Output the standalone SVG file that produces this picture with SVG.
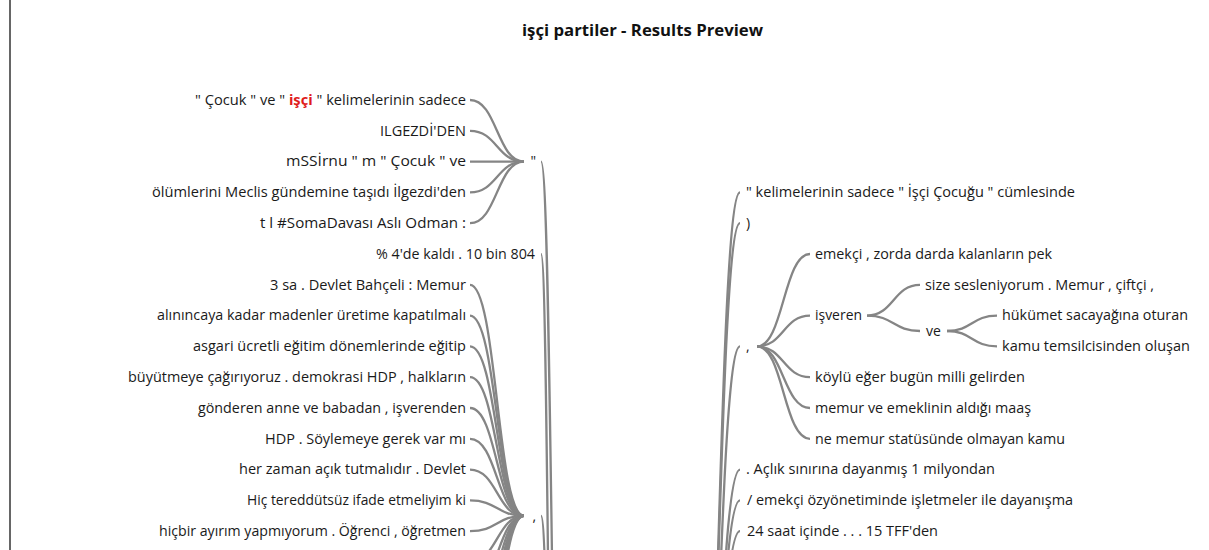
<svg xmlns="http://www.w3.org/2000/svg" width="1209" height="550" viewBox="0 0 1209 550">
<style>
text{font-family:"Open Sans","Liberation Sans",sans-serif;font-size:14px;fill:#1a1a1a}
.l{text-anchor:end}
.title{font-size:15.5px;font-weight:bold;text-anchor:middle;fill:#111}
.hl{fill:#e01b1b;font-weight:bold}
.c path{fill:none;stroke:#858585;stroke-width:2.3}
</style>
<rect width="1209" height="550" fill="#fff"/>
<line x1="10" y1="0" x2="10" y2="550" stroke="#333" stroke-width="1.5"/>
<text class="title" x="642.5" y="36" textLength="241" lengthAdjust="spacingAndGlyphs">işçi partiler - Results Preview</text>
<g class="c" id="connectors">
<path d="M470,100 C497,100 497,161.6 524,161.6"/>
<path d="M470,130.8 C497,130.8 497,161.6 524,161.6"/>
<path d="M470,161.6 C497,161.6 497,161.6 524,161.6"/>
<path d="M470,192.4 C497,192.4 497,161.6 524,161.6"/>
<path d="M470,223.2 C497,223.2 497,161.6 524,161.6"/>
<path d="M470,284.8 C497,284.8 497,515.8 524,515.8"/>
<path d="M470,315.6 C497,315.6 497,515.8 524,515.8"/>
<path d="M470,346.4 C497,346.4 497,515.8 524,515.8"/>
<path d="M470,377.2 C497,377.2 497,515.8 524,515.8"/>
<path d="M470,408 C497,408 497,515.8 524,515.8"/>
<path d="M470,438.8 C497,438.8 497,515.8 524,515.8"/>
<path d="M470,469.6 C497,469.6 497,515.8 524,515.8"/>
<path d="M470,500.4 C497,500.4 497,515.8 524,515.8"/>
<path d="M470,531.2 C497,531.2 497,515.8 524,515.8"/>
<path d="M470,562 C497,562 497,515.8 524,515.8"/>
<path d="M470,592.8 C497,592.8 497,515.8 524,515.8"/>
<path d="M470,623.6 C497,623.6 497,515.8 524,515.8"/>
<path d="M470,654.4 C497,654.4 497,515.8 524,515.8"/>
<path d="M470,685.2 C497,685.2 497,515.8 524,515.8"/>
<path d="M470,716 C497,716 497,515.8 524,515.8"/>
<path d="M470,746.8 C497,746.8 497,515.8 524,515.8"/>
<path d="M541,161.6 C552,161.6 552,950 563,950"/>
<path d="M541,254 C548.5,254 548.5,950 556,950"/>
<path d="M541,515.8 C548.5,515.8 548.5,950 556,950"/>
<path d="M740,192.4 C717.5,192.4 717.5,950 695,950"/>
<path d="M740,223.2 C717.5,223.2 717.5,950 695,950"/>
<path d="M740,346.4 C717.5,346.4 717.5,950 695,950"/>
<path d="M740,469.6 C717.5,469.6 717.5,950 695,950"/>
<path d="M740,500.4 C717.5,500.4 717.5,950 695,950"/>
<path d="M740,531.2 C717.5,531.2 717.5,950 695,950"/>
<path d="M757,346.4 C783.5,346.4 783.5,254 810,254"/>
<path d="M757,346.4 C783.5,346.4 783.5,315.6 810,315.6"/>
<path d="M757,346.4 C783.5,346.4 783.5,377.2 810,377.2"/>
<path d="M757,346.4 C783.5,346.4 783.5,408 810,408"/>
<path d="M757,346.4 C783.5,346.4 783.5,438.8 810,438.8"/>
<path d="M867,315.6 C893.5,315.6 893.5,284.8 920,284.8"/>
<path d="M867,315.6 C893.5,315.6 893.5,331 920,331"/>
<path d="M947,331 C972,331 972,315.6 997,315.6"/>
<path d="M947,331 C972,331 972,346.4 997,346.4"/>
</g>
<g id="n-l0"><text class="l" x="466" y="104.8" textLength="271" lengthAdjust="spacingAndGlyphs">" Çocuk " ve " <tspan class="hl">işçi</tspan> " kelimelerinin sadece</text></g>
<g id="n-l1"><text class="l" x="466" y="135.6" textLength="86" lengthAdjust="spacingAndGlyphs">ILGEZDİ'DEN</text></g>
<g id="n-l2"><text class="l" x="466" y="166.4" textLength="180" lengthAdjust="spacingAndGlyphs">mSSİrnu " m " Çocuk " ve</text></g>
<g id="n-l3"><text class="l" x="466" y="197.2" textLength="314" lengthAdjust="spacingAndGlyphs">ölümlerini Meclis gündemine taşıdı İlgezdi'den</text></g>
<g id="n-l4"><text class="l" x="466" y="228" textLength="206" lengthAdjust="spacingAndGlyphs">t l #SomaDavası Aslı Odman :</text></g>
<g id="n-hq"><text class="l" x="536" y="166.4">"</text></g>
<g id="n-l5"><text class="l" x="535" y="258.8" textLength="159" lengthAdjust="spacingAndGlyphs">% 4'de kaldı . 10 bin 804</text></g>
<g id="n-l6"><text class="l" x="466" y="289.6" textLength="196" lengthAdjust="spacingAndGlyphs">3 sa . Devlet Bahçeli : Memur</text></g>
<g id="n-l7"><text class="l" x="466" y="320.4" textLength="309" lengthAdjust="spacingAndGlyphs">alınıncaya kadar madenler üretime kapatılmalı</text></g>
<g id="n-l8"><text class="l" x="466" y="351.2" textLength="273" lengthAdjust="spacingAndGlyphs">asgari ücretli eğitim dönemlerinde eğitip</text></g>
<g id="n-l9"><text class="l" x="466" y="382" textLength="338" lengthAdjust="spacingAndGlyphs">büyütmeye çağırıyoruz . demokrasi HDP , halkların</text></g>
<g id="n-l10"><text class="l" x="466" y="412.8" textLength="268" lengthAdjust="spacingAndGlyphs">gönderen anne ve babadan , işverenden</text></g>
<g id="n-l11"><text class="l" x="466" y="443.6" textLength="201" lengthAdjust="spacingAndGlyphs">HDP . Söylemeye gerek var mı</text></g>
<g id="n-l12"><text class="l" x="466" y="474.4" textLength="227" lengthAdjust="spacingAndGlyphs">her zaman açık tutmalıdır . Devlet</text></g>
<g id="n-l13"><text class="l" x="466" y="505.2" textLength="219" lengthAdjust="spacingAndGlyphs">Hiç tereddütsüz ifade etmeliyim ki</text></g>
<g id="n-l14"><text class="l" x="466" y="536" textLength="307" lengthAdjust="spacingAndGlyphs">hiçbir ayırım yapmıyorum . Öğrenci , öğretmen</text></g>
<g id="n-hc"><text class="l" x="536" y="520.6">,</text></g>
<g id="n-r0"><text x="746" y="197.2" textLength="329" lengthAdjust="spacingAndGlyphs">" kelimelerinin sadece " İşçi Çocuğu " cümlesinde</text></g>
<g id="n-r1"><text x="746" y="228">)</text></g>
<g id="n-rc"><text x="746" y="351.2">,</text></g>
<g id="n-r2"><text x="815" y="258.8" textLength="237" lengthAdjust="spacingAndGlyphs">emekçi , zorda darda kalanların pek</text></g>
<g id="n-r3"><text x="815" y="320.4" textLength="47" lengthAdjust="spacingAndGlyphs">işveren</text></g>
<g id="n-r4"><text x="925" y="289.6" textLength="229" lengthAdjust="spacingAndGlyphs">size sesleniyorum . Memur , çiftçi ,</text></g>
<g id="n-r5"><text x="926" y="335.8">ve</text></g>
<g id="n-r6"><text x="1002" y="320.4" textLength="186" lengthAdjust="spacingAndGlyphs">hükümet sacayağına oturan</text></g>
<g id="n-r7"><text x="1002" y="351.2" textLength="188" lengthAdjust="spacingAndGlyphs">kamu temsilcisinden oluşan</text></g>
<g id="n-r8"><text x="815" y="382" textLength="210" lengthAdjust="spacingAndGlyphs">köylü eğer bugün milli gelirden</text></g>
<g id="n-r9"><text x="815" y="412.8" textLength="216" lengthAdjust="spacingAndGlyphs">memur ve emeklinin aldığı maaş</text></g>
<g id="n-r10"><text x="815" y="443.6" textLength="250" lengthAdjust="spacingAndGlyphs">ne memur statüsünde olmayan kamu</text></g>
<g id="n-r11"><text x="746" y="474.4" textLength="249" lengthAdjust="spacingAndGlyphs">. Açlık sınırına dayanmış 1 milyondan</text></g>
<g id="n-r12"><text x="747" y="505.2" textLength="326" lengthAdjust="spacingAndGlyphs">/ emekçi özyönetiminde işletmeler ile dayanışma</text></g>
<g id="n-r13"><text x="747" y="536" textLength="191" lengthAdjust="spacingAndGlyphs">24 saat içinde . . . 15 TFF'den</text></g>
</svg>
